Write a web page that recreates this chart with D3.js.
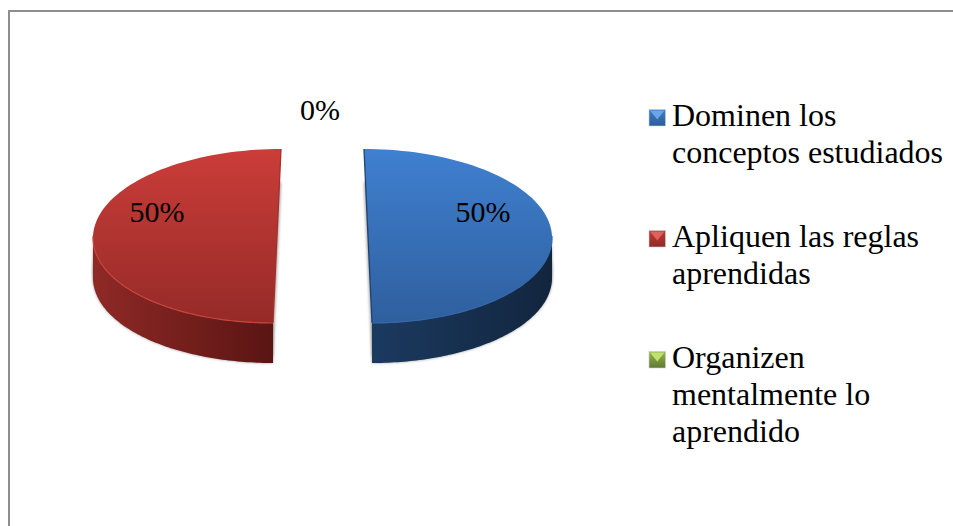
<!DOCTYPE html>
<html>
<head>
<meta charset="utf-8">
<script src="https://cdn.jsdelivr.net/npm/d3@7"></script>
<style>
  html, body { margin: 0; padding: 0; background: #fff; overflow: hidden; }
  text { font-family: "Liberation Serif", serif; fill: #000; }
</style>
</head>
<body>
<svg id="chart" width="953" height="526"></svg>
<script>
const categories = ["Dominen los conceptos estudiados", "Apliquen las reglas aprendidas", "Organizen mentalmente lo aprendido"];
const legendLines = [["Dominen los", "conceptos estudiados"], ["Apliquen las reglas", "aprendidas"], ["Organizen", "mentalmente lo", "aprendido"]];
const values = [50, 50, 0];
const labels = ["50%", "50%", "0%"];

const topColors = [["#3f80d0", "#2f5f9e"], ["#cb3d39", "#952a27"], ["#9bbb59", "#6f8c35"]];
const sideColors = [["#1b3a60", "#12253e"], ["#8f2926", "#5a1513"], ["#5e7a2c", "#3f5220"]];
const rimColors = ["#3468a8", "#c8453f", "#a9cb5a"];
const edgeColors = ["#1d4373", "#a5302c", "#5e7a2c"];
const markerColors = [["#3f7cc4", "#2c5d9b"], ["#c23a36", "#8f2926"], ["#96b550", "#5f7a2e"]];
const markerTips = ["#6aa5e6", "#e0605a", "#c2e06e"];

const width = 953, height = 526;
const cx = 322.5, cy = 236;
const rx = 184, ry = 87, depth = 40, explode = 45.5, persp = 0.088;

const svg = d3.select("#chart");
const defs = svg.append("defs");

defs.append("filter").attr("id", "blur")
    .attr("x", "-10%").attr("y", "-10%").attr("width", "120%").attr("height", "120%")
    .append("feGaussianBlur").attr("stdDeviation", 1.4);

function addGradient(id, stops, vertical) {
    let g = defs.append("linearGradient").attr("id", id)
        .attr("x1", 0).attr("y1", 0)
        .attr("x2", vertical ? 0 : 1).attr("y2", vertical ? 1 : 0);
    g.append("stop").attr("offset", "0%").attr("stop-color", stops[0]);
    g.append("stop").attr("offset", "100%").attr("stop-color", stops[1]);
}
categories.forEach((c, i) => {
    addGradient("top" + i, topColors[i], true);
    addGradient("side" + i, sideColors[i], false);
    addGradient("mark" + i, markerColors[i], true);
});

/* frame, only top and left are visible in the picture */
svg.append("rect")
    .attr("x", 9).attr("y", 11)
    .attr("width", width + 20).attr("height", height + 20)
    .attr("fill", "none")
    .attr("stroke", "#8e8e8e")
    .attr("stroke-width", 2);

const pie = d3.pie().sort(null).value(d => d);
const slices = pie(values);

// angle 0 = top of the ellipse, clockwise, same as d3.arc
// perspective only moves the slice centre, the rim stays a plain ellipse
function project(a, r, mid, dz) {
    let dy = -Math.cos(a) * ry * r;
    let shift = Math.sin(mid) * explode * (1 + persp * dy / ry);
    return [cx + shift + Math.sin(a) * rx * r, cy + dy + dz];
}

const line = d3.line();
function angles(a0, a1) {
    let n = 90;
    return d3.range(n + 1).map(i => a0 + (a1 - a0) * i / n);
}

const pieLayer = svg.append("g");

slices.forEach((s, i) => {
    if (s.endAngle - s.startAngle <= 0) return;
    let mid = (s.startAngle + s.endAngle) / 2;
    let rim = angles(s.startAngle, s.endAngle).map(a => project(a, 1, mid, 0));
    let apex = project(0, 0, mid, 0);
    let top = [apex].concat(rim);

    // front wall: only the part of the rim that faces the viewer
    let a0 = Math.max(s.startAngle, Math.PI / 2);
    let a1 = Math.min(s.endAngle, 3 * Math.PI / 2);
    let front = angles(a0, a1);
    let wall = front.map(a => project(a, 1, mid, 0))
        .concat(front.slice().reverse().map(a => project(a, 1, mid, depth)));

    // soft gray shadow: slice dropped a bit less than the wall height
    pieLayer.append("path")
        .attr("d", line(top.map(p => [p[0], p[1] + depth - 7])) + "Z")
        .attr("fill", "#777")
        .attr("opacity", 0.7)
        .attr("filter", "url(#blur)");
    pieLayer.append("path")
        .attr("d", line(wall) + "Z")
        .attr("fill", "#777")
        .attr("opacity", 0.7)
        .attr("filter", "url(#blur)");

    pieLayer.append("path")
        .attr("d", line(wall) + "Z")
        .attr("fill", "url(#side" + i + ")");

    pieLayer.append("path")
        .attr("d", line(top) + "Z")
        .attr("fill", "url(#top" + i + ")");

    // dark line along the cut side
    let cut = [rim[0], apex, rim[rim.length - 1]];
    pieLayer.append("path")
        .attr("d", line(cut))
        .attr("fill", "none")
        .attr("stroke", edgeColors[i])
        .attr("stroke-width", 1.3);

    // lighter rim at the front
    pieLayer.append("path")
        .attr("d", line(front.map(a => project(a, 1, mid, 0))))
        .attr("fill", "none")
        .attr("stroke", rimColors[i])
        .attr("stroke-width", 1.2);
});

const labelX = [483, 157, 320];
const labelY = [222, 222, 120];
svg.append("g").selectAll("text")
    .data(labels)
    .enter()
    .append("text")
    .attr("x", (d, i) => labelX[i])
    .attr("y", (d, i) => labelY[i])
    .attr("text-anchor", "middle")
    .attr("font-size", 30)
    .text(d => d);

/* Legend */
const legendY = [126, 247, 368];
const lineHeight = 36.8;
const mSize = 16.5, mX = 649;

const legend = svg.append("g").selectAll("g")
    .data(legendLines)
    .enter()
    .append("g");

legend.each(function (lines, i) {
    let g = d3.select(this);
    let y = legendY[i] - 16.5;
    g.append("rect")
        .attr("x", mX).attr("y", y)
        .attr("width", mSize).attr("height", mSize)
        .attr("fill", "url(#mark" + i + ")")
        .attr("stroke", "#c8d0d8")
        .attr("stroke-width", 0.6);
    g.append("path")
        .attr("d", line([[mX + 1, y + 1], [mX + mSize - 1, y + 1], [mX + mSize / 2, y + mSize * 0.6]]) + "Z")
        .attr("fill", markerTips[i]);
    g.selectAll("text")
        .data(lines)
        .enter()
        .append("text")
        .attr("x", 672)
        .attr("y", (d, j) => legendY[i] + j * lineHeight)
        .attr("font-size", 32)
        .text(d => d);
});
</script>
</body>
</html>
